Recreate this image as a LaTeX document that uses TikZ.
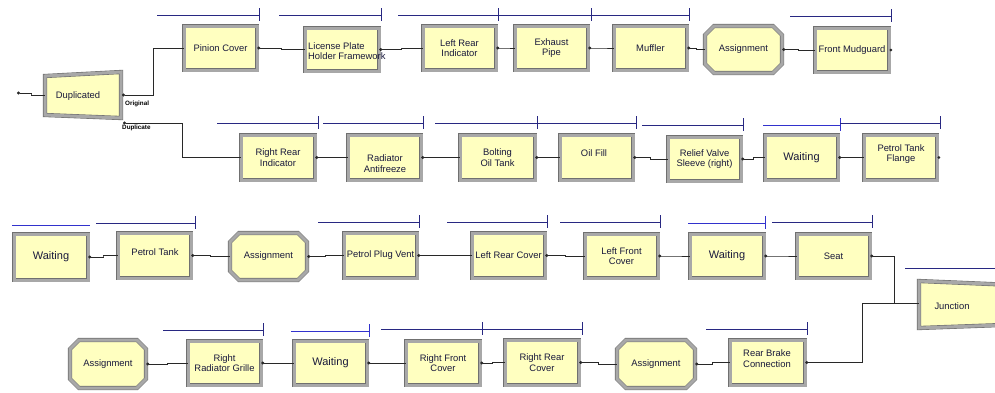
\documentclass[tikz,border=0pt]{standalone}
\usepackage{fontspec}
\setmainfont{Liberation Sans}
\usetikzlibrary{calc,arrows.meta}

\definecolor{boxyellow}{RGB}{255,255,192}
\definecolor{framegray}{RGB}{168,168,168}
\definecolor{framedark}{RGB}{112,112,112}
\definecolor{barblue}{RGB}{40,40,130}
\definecolor{waitblue}{RGB}{50,50,205}
\definecolor{conncol}{RGB}{40,40,40}
\definecolor{txtcol}{RGB}{25,25,60}

\tikzset{
 modframe/.style={draw=framedark, line width=0.6pt, double=framegray, double distance=3pt, fill=boxyellow},
 modbox/.style={modframe, rectangle, inner sep=0pt, align=center, text=txtcol, font=\fontsize{9.4}{10.5}\selectfont},
 waitfont/.style={font=\fontsize{11}{12}\selectfont},
 mtext/.style={inner sep=0pt, align=center, text=txtcol, font=\fontsize{9.4}{10.5}\selectfont},
 conn/.style={draw=conncol, line width=0.7pt, arrows={Circle[length=3pt,width=3pt]-}},
 qbar/.style={draw=barblue, line width=0.8pt},
 wbar/.style={draw=waitblue, line width=0.8pt},
 outlabel/.style={inner sep=0pt, anchor=west, font=\fontsize{6.3}{7}\selectfont\bfseries, text=black},
}

% #1 options, #2 name, #3 x1, #4 x2, #5 y1, #6 y2, #7 text
\newcommand\modbox[7][]{%
 \node[modbox,minimum width={#4-#3-4},minimum height={#6-#5-4},#1] (#2) at ({(#3+#4)/2},{(#5+#6)/2}) {#7};}
\newcommand\octo[7][]{%
 \draw[modframe] ({#3+11},{#5+2}) -- ({#4-11},{#5+2}) -- ({#4-2},{#5+11}) -- ({#4-2},{#6-11})
   -- ({#4-11},{#6-2}) -- ({#3+11},{#6-2}) -- ({#3+2},{#6-11}) -- ({#3+2},{#5+11}) -- cycle;
 \node[mtext,minimum width={#4-#3-4},minimum height={#6-#5-4},#1] (#2) at ({(#3+#4)/2},{(#5+#6)/2}) {#7};}
% queue bar with tick: #1 style, #2 x1, #3 x2, #4 y
\newcommand\qline[4][qbar]{%
 \draw[#1] (#2,#4) -- (#3,#4); \draw[#1] (#3,{#4-7}) -- (#3,{#4+6});}
% connector with one jog
\newcommand\jogp[2]{\draw[conn] (#1) -| ($(#1)!.5!(#2)$) |- (#2);}

\begin{document}
\begin{tikzpicture}[x=1pt,y=-1pt]
\useasboundingbox (0,0) rectangle (995,392);
\clip (0,0) rectangle (995,392);
\fill[white] (0,0) rectangle (995,392);

% ---------- Duplicated (separate) ----------
\draw[modframe] (45,76) -- (121,72) -- (121,118) -- (45,115) -- cycle;
\node[mtext] (dup) at (78,96) {Duplicated};
\coordinate (src) at (17,93);
\coordinate (dupin) at (45,95);
\coordinate (duporig) at (122,95);
\coordinate (dupdup) at (123,123);
\node[outlabel] (lorig) at (125,104) {Original};
\node[outlabel] (ldup) at (122,127.5) {Duplicate};

% ---------- Row 1 ----------
\modbox{pin}{182}{259}{24}{72}{Pinion Cover}
\modbox{lic}{303}{381}{26}{73}{}
\node[mtext,anchor=west,align=left] (lict) at (308,51) {License Plate\\Holder Framework};
\modbox{lri}{421}{498}{24}{72}{Left Rear\\Indicator}
\modbox{exh}{513}{590}{24}{72}{Exhaust\\Pipe}
\modbox{muf}{612}{689}{24}{72}{Muffler}
\octo{as1}{703}{784}{24}{75}{Assignment}
\modbox{fmg}{813}{891}{26}{74}{Front Mudguard}

\qline{157}{259}{15}
\qline{279}{381}{15}
\qline{398}{498}{15}
\qline{491}{591}{15}
\qline{589}{689}{15}
\qline{790}{891}{16}

% ---------- Row 2 ----------
\modbox{rri}{239}{317}{133}{182}{Right Rear\\Indicator}
\modbox{rad}{346}{423}{133}{182}{}
\node[mtext] (radt) at (385,163.5) {Radiator\\Antifreeze};
\modbox{bot}{458}{537}{133}{182}{Bolting\\Oil Tank}
\modbox{oil}{558}{635}{133}{182}{}
\node[mtext] (oilt) at (594,153) {Oil Fill};
\modbox{rvs}{666}{743}{135}{183}{Relief Valve\\Sleeve (right)}
\modbox[waitfont]{wt1}{763}{840}{133}{182}{Waiting}
\modbox{ptf}{862}{939}{133}{182}{}
\node[mtext] (ptft) at (901,154) {Petrol Tank\\Flange};

\qline{217}{318}{123}
\qline{323}{423}{123}
\qline{435}{537}{123}
\qline{537}{636}{123}
\qline{642}{743}{125}
\qline[wbar]{763}{840}{125}
\qline{840}{940}{123}

% ---------- Row 3 ----------
\modbox[waitfont]{wt2}{12}{90}{232}{282}{Waiting}
\modbox{ptk}{116}{193}{231}{280}{}
\node[mtext] (ptkt) at (155,252) {Petrol Tank};
\octo{as2}{228}{309}{231}{282}{Assignment}
\modbox{ppv}{342}{419}{231}{280}{Petrol Plug Vent}
\modbox{lrc}{470}{547}{231}{280}{Left Rear Cover}
\modbox{lfc}{583}{660}{232}{280}{Left Front\\Cover}
\modbox[waitfont]{wt3}{688}{766}{232}{280}{Waiting}
\modbox{seat}{795}{872}{232}{280}{Seat}

\draw[wbar] (12,225) -- (90,225);
\qline{96}{195}{223}
\qline{318}{419}{222}
\qline{447}{547}{222}
\qline{560}{660}{222}
\qline[wbar]{688}{765}{223}
\qline{772}{872}{222}

% ---------- Junction (batch) ----------
\draw[modframe] (919,281) -- (1002,284.5) -- (1002,325) -- (919,328) -- cycle;
\node[mtext] (junc) at (952,306) {Junction};
\coordinate (juncin) at (919,303);
\draw[qbar] (905,268) -- (996,268);

% ---------- Row 4 ----------
\octo{as3}{68}{148}{338}{390}{Assignment}
\modbox{rrg}{186}{263}{339}{387}{Right\\Radiator Grille}
\modbox[waitfont]{wt4}{292}{369}{339}{387}{Waiting}
\modbox{rfc}{404}{482}{339}{387}{Right Front\\Cover}
\modbox{rrc}{503}{581}{338}{387}{Right Rear\\Cover}
\octo{as4}{615}{697}{338}{390}{Assignment}
\modbox{rbc}{728}{807}{338}{387}{}
\node[mtext] (rbct) at (767,358.5) {Rear Brake\\Connection};

\qline{163}{263}{330}
\qline[wbar]{291}{369}{331}
\qline{381}{482}{329}
\qline{482}{582}{329}
\qline{706}{807}{329}

% ---------- Connectors ----------
\jogp{src}{dupin}
\jogp{duporig}{pin.west}
\jogp{pin.east}{lic.west}
\jogp{lic.east}{lri.west}
\jogp{lri.east}{exh.west}
\jogp{exh.east}{muf.west}
\jogp{muf.east}{as1.west}
\jogp{as1.east}{fmg.west}
\fill[conncol] ([xshift=1.5pt]fmg.east) circle (1.5pt);

\jogp{dupdup}{rri.west}
\jogp{rri.east}{rad.west}
\jogp{rad.east}{bot.west}
\jogp{bot.east}{oil.west}
\jogp{oil.east}{rvs.west}
\jogp{rvs.east}{wt1.west}
\jogp{wt1.east}{ptf.west}
\fill[conncol] ([xshift=1.5pt]ptf.east) circle (1.5pt);

\jogp{wt2.east}{ptk.west}
\jogp{ptk.east}{as2.west}
\jogp{as2.east}{ppv.west}
\jogp{ppv.east}{lrc.west}
\jogp{lrc.east}{lfc.west}
\jogp{lfc.east}{wt3.west}
\jogp{wt3.east}{seat.west}
\jogp{seat.east}{juncin}

\jogp{as3.east}{rrg.west}
\jogp{rrg.east}{wt4.west}
\jogp{wt4.east}{rfc.west}
\jogp{rfc.east}{rrc.west}
\jogp{rrc.east}{as4.west}
\jogp{as4.east}{rbc.west}
\jogp{rbc.east}{juncin}
\end{tikzpicture}
\end{document}
